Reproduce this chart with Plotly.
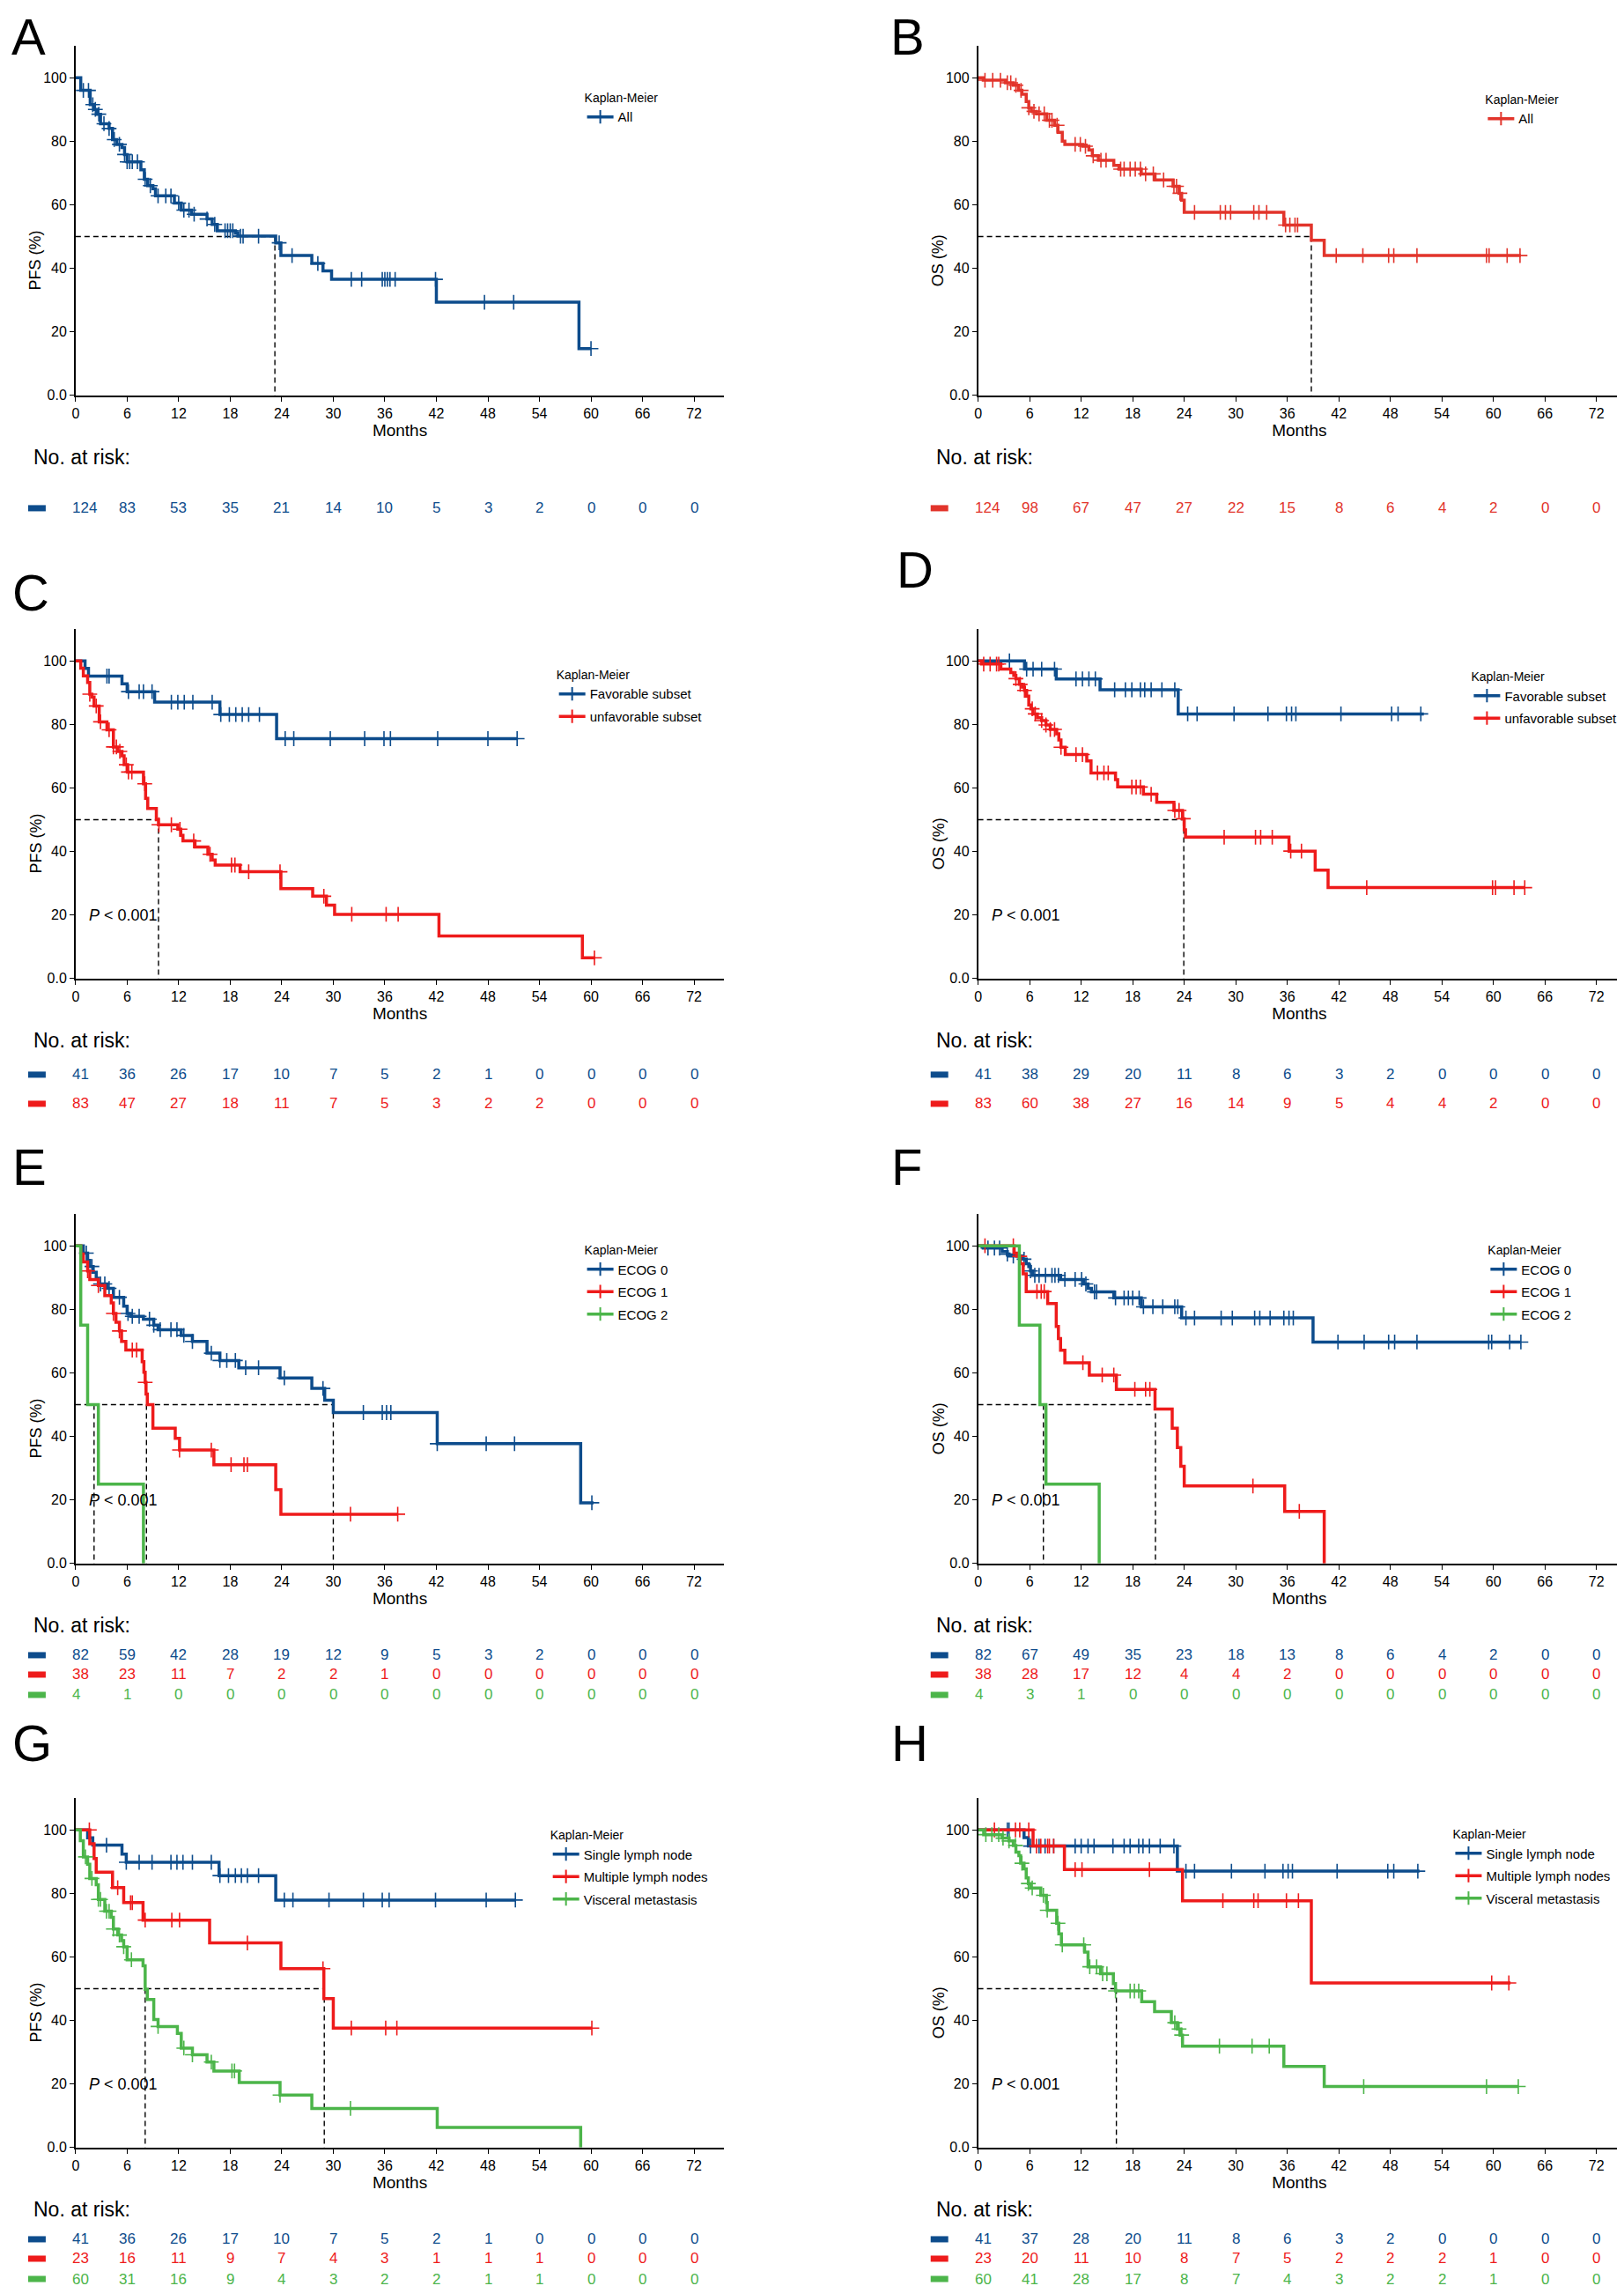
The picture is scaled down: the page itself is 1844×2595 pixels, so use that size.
import numpy as np
import plotly.graph_objects as go

# the browser adds an 8px body margin and the shot comes out slightly reduced
# in height, so page pixel positions are mapped back to figure pixels in px()/py()
PAGE_W, PAGE_H = 1844, 2595
OFF = 8
SHOT = 0.995
W, H = 1845, 2600
BLUE = "#0d4c8c"
RED = "#ee1b1b"
RED_B = "#e2342b"
GREEN = "#4cb54a"
FONT = "Liberation Sans, Arial, Helvetica, sans-serif"

months = list(range(0, 73, 6))

# ---- A: PFS, all patients ----
a_t = [0, 0.6, 1.7, 2.1, 2.5, 2.9, 3.9, 4.3, 4.8, 5.4, 5.7, 6.0, 7.6, 8.0, 8.4, 9.0, 9.3, 11.5, 12.3,
       13.5, 15.3, 15.9, 16.5, 18.6, 18.9, 23.3, 23.9, 27.5, 28.8, 29.8, 42.0, 58.6, 60.0]
a_s = [100, 96.0, 91.5, 90.0, 88.5, 85.5, 84.0, 80.5, 79.0, 78.0, 75.8, 73.5, 71.0, 68.0, 66.0, 65.0, 62.8,
       60.5, 58.3, 57.0, 55.5, 53.8, 51.8, 51.0, 50.1, 48.0, 44.0, 41.5, 39.2, 36.5, 29.3, 14.7, 14.7]
a_cens = [0.9, 1.5, 2.0, 2.3, 2.7, 3.3, 3.9, 4.5, 5.1, 5.7, 6.0, 6.3, 6.6, 7.2, 8.1, 8.7, 9.6, 10.5, 11.1,
          12.0, 12.6, 13.2, 13.8, 15.3, 16.2, 17.4, 17.7, 18.0, 18.3, 19.2, 19.5, 21.3, 23.7, 25.2, 28.2,
          32.1, 33.3, 35.7, 36.0, 36.3, 36.6, 37.2, 41.9, 47.6, 51.0, 60.0]
a_risk = [124, 83, 53, 35, 21, 14, 10, 5, 3, 2, 0, 0, 0]

# ---- B: OS, all patients ----
b_t = [0, 0.6, 3.2, 4.1, 4.7, 5.1, 5.6, 5.9, 6.2, 6.8, 8.0, 8.9, 9.3, 9.8, 10.1, 12.2, 12.9, 13.3, 14.0,
       15.8, 16.4, 19.0, 20.6, 22.7, 23.4, 23.7, 24.0, 35.6, 38.8, 40.3, 63.2]
b_s = [100, 99.2, 98.4, 97.6, 96.0, 94.8, 92.5, 90.5, 89.4, 88.6, 86.6, 85.0, 82.8, 80.0, 79.0, 78.4, 77.2,
       75.4, 74.0, 72.4, 71.2, 69.7, 67.8, 65.8, 63.6, 61.4, 57.6, 53.6, 48.8, 44.0, 44.0]
b_cens = [0.8, 1.7, 2.6, 3.4, 3.8, 4.4, 5.0, 5.9, 6.5, 7.1, 7.7, 8.3, 8.6, 9.2, 11.3, 11.9, 12.5, 13.4,
          14.3, 14.9, 16.6, 17.0, 17.7, 18.3, 18.9, 19.5, 20.4, 21.6, 22.8, 23.1, 23.5, 25.2, 28.2, 28.8,
          29.4, 32.1, 32.7, 33.6, 35.8, 36.3, 36.9, 37.2, 41.7, 44.8, 47.8, 48.4, 51.1, 59.2, 59.5, 61.6, 63.1]
b_risk = [124, 98, 67, 47, 27, 22, 15, 8, 6, 4, 2, 0, 0]

# ---- C: PFS by subset ----
c_fav_t = [0, 1.1, 1.5, 5.4, 6.0, 9.2, 16.8, 23.4, 51.5]
c_fav_s = [100, 97.6, 95.2, 92.8, 90.3, 87.0, 83.1, 75.5, 75.5]
c_fav_cens = [3.65, 3.9, 6.15, 7.4, 7.9, 8.9, 11.15, 11.9, 12.65, 13.65, 15.9, 16.9, 17.9, 18.65, 19.4,
              20.15, 21.4, 24.4, 25.4, 29.65, 33.65, 35.9, 36.65, 42.15, 48.0, 51.4]
c_fav_risk = [41, 36, 26, 17, 10, 7, 5, 2, 1, 0, 0, 0, 0]
c_unf_t = [0, 0.6, 0.9, 1.4, 1.65, 1.9, 2.15, 2.75, 3.65, 4.4, 4.9, 5.4, 5.65, 6.05, 7.9, 8.15, 8.4, 9.4,
           9.65, 11.9, 12.25, 12.5, 13.9, 15.4, 15.9, 16.25, 19.15, 23.9, 27.6, 29.2, 30.15, 42.3, 59.0, 60.5]
c_unf_s = [100, 97.7, 95.3, 93.2, 89.5, 88.6, 85.8, 80.8, 78.3, 72.9, 71.5, 70.1, 67.3, 65.0, 61.3, 56.7,
           53.5, 50.0, 48.4, 47.0, 45.1, 43.3, 41.4, 39.1, 37.3, 35.7, 33.6, 28.3, 25.9, 23.1, 20.2, 13.4,
           6.5, 6.5]
c_unf_cens = [1.65, 2.4, 2.9, 3.9, 4.4, 4.75, 5.15, 5.9, 6.15, 6.55, 8.05, 9.7, 11.15, 12.15, 13.75,
              15.65, 18.15, 18.55, 20.15, 23.8, 28.9, 32.15, 36.15, 37.55, 60.4]
c_unf_risk = [83, 47, 27, 18, 11, 7, 5, 3, 2, 2, 0, 0, 0]

# ---- D: OS by subset ----
d_fav_t = [0, 5.4, 9.1, 14.2, 23.3, 51.9]
d_fav_s = [100, 97.4, 94.3, 90.9, 83.3, 83.3]
d_fav_cens = [3.65, 5.65, 6.4, 7.4, 8.9, 11.4, 12.15, 12.9, 13.65, 15.9, 17.15, 17.9, 18.9, 19.4, 20.15,
              21.4, 22.9, 24.4, 25.5, 29.8, 33.75, 35.9, 36.5, 37.0, 42.25, 48.15, 48.9, 51.55]
d_fav_risk = [41, 38, 29, 20, 11, 8, 6, 3, 2, 0, 0, 0, 0]
d_unf_t = [0, 0.4, 2.65, 3.8, 4.15, 4.4, 4.8, 5.15, 5.4, 5.65, 5.9, 6.15, 6.4, 6.9, 7.4, 7.9, 8.4, 9.15,
           9.4, 9.65, 10.15, 12.65, 13.15, 16.0, 16.25, 19.25, 20.8, 22.8, 23.8, 24.0, 24.15, 36.2, 39.25,
           40.75, 63.65]
d_unf_s = [100, 99.0, 97.4, 96.3, 95.4, 94.4, 92.6, 91.7, 90.7, 88.9, 86.1, 84.9, 83.3, 82.1, 81.2, 79.8,
           78.4, 77.0, 75.1, 72.8, 70.5, 68.5, 64.7, 62.6, 60.3, 58.0, 55.5, 52.9, 50.3, 46.8, 44.5, 40.1,
           34.1, 28.6, 28.6]
d_unf_cens = [0.65, 1.4, 2.15, 2.4, 4.4, 4.9, 5.4, 6.3, 6.65, 7.4, 7.9, 8.4, 8.9, 9.65, 11.4, 12.15,
              13.9, 14.65, 15.15, 17.9, 18.4, 18.9, 20.15, 22.9, 23.4, 23.9, 28.65, 32.3, 32.9, 34.25,
              36.4, 37.65, 45.25, 59.9, 60.25, 62.4, 63.65]
d_unf_risk = [83, 60, 38, 27, 16, 14, 9, 5, 4, 4, 2, 0, 0]

# ---- E: PFS by ECOG ----
e0_t = [0, 0.9, 1.4, 1.65, 2.05, 2.4, 2.65, 3.65, 4.4, 5.6, 6.0, 6.4, 7.9, 9.1, 9.6, 12.3, 13.6, 15.3,
        16.8, 19.0, 23.8, 27.5, 29.0, 30.0, 42.1, 58.8, 60.3]
e0_s = [100, 97.7, 95.4, 93.5, 91.7, 89.8, 88.0, 86.6, 83.8, 81.0, 78.7, 77.8, 76.9, 75.0, 73.6, 71.8,
        69.9, 66.2, 63.9, 61.6, 58.4, 55.1, 51.4, 47.5, 37.7, 19.1, 19.1]
e0_cens = [1.25, 1.9, 2.9, 3.4, 3.9, 5.1, 6.1, 6.6, 7.4, 8.6, 9.1, 9.85, 11.1, 11.8, 12.6, 13.6, 15.8,
           16.8, 17.6, 18.6, 19.8, 21.3, 24.3, 28.8, 33.5, 35.7, 36.2, 36.7, 42.1, 47.8, 51.1, 60.1]
e0_risk = [82, 59, 42, 28, 19, 12, 9, 5, 3, 2, 0, 0, 0]
e1_t = [0, 0.6, 0.9, 1.4, 1.65, 2.65, 3.4, 4.15, 4.4, 4.7, 5.1, 5.35, 5.85, 7.75, 7.95, 8.1, 8.2, 8.35,
        9.0, 11.6, 12.1, 16.1, 23.3, 23.9, 37.5]
e1_s = [100, 97.4, 94.9, 92.1, 89.4, 87.5, 84.3, 82.0, 78.7, 75.9, 73.2, 69.9, 67.2, 63.5, 60.2, 57.0,
        53.3, 50.0, 42.6, 39.4, 35.7, 31.1, 23.2, 15.5, 15.5]
e1_cens = [1.4, 2.65, 4.4, 5.1, 6.6, 7.1, 8.1, 12.1, 15.8, 18.1, 19.6, 20.0, 32.0, 37.5]
e1_risk = [38, 23, 11, 7, 2, 2, 1, 0, 0, 0, 0, 0, 0]
e2_t = [0, 0.6, 1.4, 2.65, 7.9]
e2_s = [100, 75, 50, 25, 0]
e2_cens = []
e2_risk = [4, 1, 0, 0, 0, 0, 0, 0, 0, 0, 0, 0, 0]

# ---- F: OS by ECOG ----
f0_t = [0, 0.6, 2.8, 3.4, 3.6, 5.1, 5.6, 5.9, 6.1, 6.35, 9.6, 12.3, 12.8, 13.2, 15.8, 19.0, 23.7, 39.0, 63.2]
f0_s = [100, 99.3, 98.2, 97.4, 96.8, 95.8, 94.4, 93.5, 92.1, 90.7, 89.4, 88.0, 86.6, 85.5, 83.6, 80.8,
        77.3, 69.7, 69.7]
f0_cens = [1.15, 1.9, 2.5, 3.4, 4.1, 5.35, 6.1, 6.6, 7.1, 7.85, 8.6, 8.95, 9.35, 10.1, 11.3, 12.05, 12.55,
           13.55, 13.8, 16.0, 17.0, 17.5, 18.0, 18.75, 19.25, 20.35, 21.5, 22.9, 23.25, 24.2, 25.2, 28.3,
           29.6, 32.2, 32.8, 34.0, 35.6, 36.2, 36.7, 41.9, 44.95, 47.8, 48.5, 51.1, 59.45, 59.8, 61.9, 63.2]
f0_risk = [82, 67, 49, 35, 23, 18, 13, 8, 6, 4, 2, 0, 0]
f1_t = [0, 4.2, 4.5, 4.9, 5.25, 5.6, 8.1, 9.1, 9.35, 9.6, 10.1, 12.95, 16.1, 20.6, 22.6, 23.2, 23.6, 24.0,
        35.7, 40.3]
f1_s = [100, 97.7, 96.7, 94.4, 91.2, 85.6, 81.8, 74.6, 70.8, 67.1, 63.2, 59.3, 54.8, 48.6, 42.6, 36.5,
        30.6, 24.4, 16.4, 0]
f1_cens = [0.8, 4.1, 4.85, 6.85, 7.35, 7.7, 12.2, 14.45, 15.8, 18.25, 19.5, 20.0, 32.0, 37.4]
f1_risk = [38, 28, 17, 12, 4, 4, 2, 0, 0, 0, 0, 0, 0]
f2_t = [0, 4.8, 7.2, 7.9, 14.1]
f2_s = [100, 75, 50, 25, 0]
f2_cens = []
f2_risk = [4, 3, 1, 0, 0, 0, 0, 0, 0, 0, 0, 0, 0]

# ---- G: PFS by metastatic site ----
g1_t = [0, 1.4, 2.0, 5.4, 5.9, 16.7, 23.3, 51.2]
g1_s = [100, 97.5, 95.2, 92.4, 89.8, 85.6, 77.9, 77.9]
g1_cens = [3.6, 5.9, 7.4, 8.9, 11.1, 11.8, 12.5, 13.6, 15.8, 16.8, 17.8, 18.6, 19.3, 20.0, 21.3, 24.3,
           25.3, 29.5, 33.5, 35.7, 36.5, 41.9, 47.8, 51.2]
g1_risk = [41, 36, 26, 17, 10, 7, 5, 2, 1, 0, 0, 0, 0]
g2_t = [0, 1.65, 2.15, 2.4, 4.3, 5.6, 7.85, 15.6, 23.9, 28.9, 30.0, 60.1]
g2_s = [100, 95.6, 91.0, 86.7, 81.8, 77.1, 71.6, 64.4, 56.3, 46.9, 37.6, 37.6]
g2_cens = [1.6, 4.9, 6.4, 6.6, 8.1, 11.2, 12.1, 20.0, 28.8, 32.1, 36.1, 37.4, 60.1]
g2_risk = [23, 16, 11, 9, 7, 4, 3, 1, 1, 1, 0, 0, 0]
g3_t = [0, 0.55, 0.9, 1.4, 1.65, 2.4, 2.65, 3.4, 4.15, 4.4, 4.9, 5.35, 5.6, 6.0, 7.85, 8.1, 8.35, 9.1, 9.6,
        11.85, 12.3, 13.6, 15.3, 16.1, 19.05, 23.8, 27.5, 42.1, 58.8]
g3_s = [100, 96.6, 91.5, 89.2, 84.7, 82.7, 78.1, 74.4, 72.5, 68.8, 66.9, 65.1, 63.2, 59.1, 57.2, 49.8,
        46.6, 40.3, 38.1, 35.9, 31.3, 29.2, 26.9, 24.1, 20.5, 16.5, 12.3, 6.3, 0]
g3_cens = [1.15, 1.9, 2.65, 2.9, 3.6, 3.9, 4.4, 5.1, 5.6, 6.5, 9.6, 12.6, 13.6, 15.8, 18.2, 18.5, 23.8, 32.0]
g3_risk = [60, 31, 16, 9, 4, 3, 2, 2, 1, 1, 0, 0, 0]

# ---- H: OS by metastatic site ----
h1_t = [0, 5.35, 5.85, 23.2, 51.4]
h1_s = [100, 97.6, 94.9, 87.0, 87.0]
h1_cens = [3.4, 3.6, 6.1, 7.1, 7.8, 8.8, 11.3, 12.0, 12.8, 13.5, 15.7, 17.0, 17.7, 18.7, 19.2, 19.95,
           21.2, 22.8, 24.2, 25.2, 29.5, 33.4, 35.5, 36.1, 36.6, 41.8, 47.7, 48.4, 51.2]
h1_risk = [41, 37, 28, 20, 11, 8, 6, 3, 2, 0, 0, 0, 0]
h2_t = [0, 6.4, 10.05, 23.8, 38.8, 62.0]
h2_s = [100, 94.9, 87.5, 77.7, 51.8, 51.8]
h2_cens = [1.9, 4.35, 4.85, 5.9, 6.8, 7.3, 8.1, 8.3, 8.8, 11.3, 12.1, 19.95, 28.5, 32.1, 32.6, 35.9,
           37.3, 59.8, 61.8]
h2_risk = [23, 20, 11, 10, 8, 7, 5, 2, 2, 2, 1, 0, 0]
h3_t = [0, 0.65, 2.8, 3.6, 4.1, 4.4, 4.75, 4.95, 5.35, 5.6, 5.85, 6.1, 7.3, 7.95, 8.05, 9.15, 9.4, 9.7,
        12.4, 12.8, 14.25, 15.75, 16.0, 19.05, 20.55, 22.5, 23.2, 23.6, 23.8, 35.6, 40.3, 62.9]
h3_s = [100, 98.5, 97.4, 96.5, 95.1, 93.0, 91.9, 89.5, 87.7, 84.9, 83.1, 81.7, 79.4, 77.1, 74.7, 70.6,
        67.3, 63.8, 61.5, 56.9, 54.7, 51.6, 49.3, 45.9, 42.8, 39.3, 37.3, 35.4, 31.9, 25.5, 19.2, 19.2]
h3_cens = [0.9, 1.6, 2.4, 2.9, 3.6, 4.35, 5.1, 5.85, 6.3, 7.6, 8.05, 9.3, 9.8, 12.3, 13.0, 13.8, 14.5,
           15.0, 16.0, 17.7, 18.2, 18.7, 22.9, 23.4, 23.7, 28.1, 31.9, 33.9, 44.9, 59.2, 62.9]
h3_risk = [60, 41, 28, 17, 8, 7, 4, 3, 2, 2, 1, 0, 0]

subset_names = ["Favorable subset", "unfavorable subset"]
ecog_names = ["ECOG 0", "ECOG 1", "ECOG 2"]
site_names = ["Single lymph node", "Multiple lymph nodes", "Visceral metastasis"]

panels = [
    dict(letter="A", row=0, col=0, ytitle="PFS (%)", p=False, medians=[23.2],
         groups=[("All", BLUE, a_t, a_s, a_cens, a_risk)]),
    dict(letter="B", row=0, col=1, ytitle="OS (%)", p=False, medians=[38.8],
         groups=[("All", RED_B, b_t, b_s, b_cens, b_risk)]),
    dict(letter="C", row=1, col=0, ytitle="PFS (%)", p=True, medians=[9.65],
         groups=[(subset_names[0], BLUE, c_fav_t, c_fav_s, c_fav_cens, c_fav_risk),
                 (subset_names[1], RED, c_unf_t, c_unf_s, c_unf_cens, c_unf_risk)]),
    dict(letter="D", row=1, col=1, ytitle="OS (%)", p=True, medians=[23.95],
         groups=[(subset_names[0], BLUE, d_fav_t, d_fav_s, d_fav_cens, d_fav_risk),
                 (subset_names[1], RED, d_unf_t, d_unf_s, d_unf_cens, d_unf_risk)]),
    dict(letter="E", row=2, col=0, ytitle="PFS (%)", p=True, medians=[2.15, 8.25, 30.0],
         groups=[(ecog_names[0], BLUE, e0_t, e0_s, e0_cens, e0_risk),
                 (ecog_names[1], RED, e1_t, e1_s, e1_cens, e1_risk),
                 (ecog_names[2], GREEN, e2_t, e2_s, e2_cens, e2_risk)]),
    dict(letter="F", row=2, col=1, ytitle="OS (%)", p=True, medians=[7.6, 20.65],
         groups=[(ecog_names[0], BLUE, f0_t, f0_s, f0_cens, f0_risk),
                 (ecog_names[1], RED, f1_t, f1_s, f1_cens, f1_risk),
                 (ecog_names[2], GREEN, f2_t, f2_s, f2_cens, f2_risk)]),
    dict(letter="G", row=3, col=0, ytitle="PFS (%)", p=True, medians=[8.1, 28.95],
         groups=[(site_names[0], BLUE, g1_t, g1_s, g1_cens, g1_risk),
                 (site_names[1], RED, g2_t, g2_s, g2_cens, g2_risk),
                 (site_names[2], GREEN, g3_t, g3_s, g3_cens, g3_risk)]),
    dict(letter="H", row=3, col=1, ytitle="OS (%)", p=True, medians=[16.1],
         groups=[(site_names[0], BLUE, h1_t, h1_s, h1_cens, h1_risk),
                 (site_names[1], RED, h2_t, h2_s, h2_cens, h2_risk),
                 (site_names[2], GREEN, h3_t, h3_s, h3_cens, h3_risk)]),
]

# page layout in pixels
col_x0 = [82, 1109]
col_x1 = [820, 1840]
col_xmax = [75.5, 74.8]
row_y0 = [448, 1109, 1772, 2434]
letter_pos = {"A": (8, 24), "B": (1008, 24), "C": (8, 671), "D": (1014, 645),
              "E": (8, 1322), "F": (1008, 1322), "G": (8, 1975), "H": (1008, 1975)}
legend_pos = {"A": (659, 110), "B": (1684, 112), "C": (627, 764), "D": (1668, 766),
              "E": (659, 1416), "F": (1687, 1416), "G": (620, 2079), "H": (1647, 2078)}
risk_off = {1: [128], 2: [109, 142], 3: [104, 126, 149]}


def px(x):
    return (x - OFF) / W


def py(y):
    return 1 - (y / SHOT - OFF) / H


def step_at(t, s, c):
    i = np.searchsorted(np.asarray(t), c, side="right") - 1
    return s[max(i, 0)]


fig = go.Figure()
annotations = []
shapes = []
layout = {}

for k, pnl in enumerate(panels):
    n = k + 1
    xa = "xaxis" if n == 1 else f"xaxis{n}"
    ya = "yaxis" if n == 1 else f"yaxis{n}"
    xr = "x" if n == 1 else f"x{n}"
    yr = "y" if n == 1 else f"y{n}"
    lg = "legend" if n == 1 else f"legend{n}"
    col, row = pnl["col"], pnl["row"]
    x0, x1 = col_x0[col], col_x1[col]
    y0 = row_y0[row]

    layout[xa] = dict(domain=[px(x0), min(px(x1), 1)], range=[0, col_xmax[col]], anchor=yr,
                      tickvals=months, ticks="outside", ticklen=5, tickwidth=1.2, tickcolor="black",
                      showline=True, linecolor="black", linewidth=1.6, showgrid=False, zeroline=False,
                      tickfont=dict(family=FONT, size=16, color="black"),
                      title=dict(text="Months", font=dict(family=FONT, size=19, color="black"), standoff=1))
    layout[ya] = dict(domain=[py(y0), py(y0 - 396)], range=[0, 110], anchor=xr,
                      tickvals=[0, 20, 40, 60, 80, 100], ticktext=["0.0", "20", "40", "60", "80", "100"],
                      ticks="outside", ticklen=5, tickwidth=1.2, tickcolor="black",
                      showline=True, linecolor="black", linewidth=1.6, showgrid=False, zeroline=False,
                      tickfont=dict(family=FONT, size=16, color="black"))

    # median reference lines
    meds = pnl["medians"]
    fig.add_trace(go.Scatter(x=[0, max(meds)], y=[50, 50], mode="lines", xaxis=xr, yaxis=yr,
                             line=dict(color="black", width=1.4, dash="6px,4px"), showlegend=False,
                             hoverinfo="skip"))
    for m in meds:
        fig.add_trace(go.Scatter(x=[m, m], y=[50, 0], mode="lines", xaxis=xr, yaxis=yr,
                                 line=dict(color="black", width=1.4, dash="6px,4px"), showlegend=False,
                                 hoverinfo="skip"))

    ngrp = len(pnl["groups"])
    for g, (name, color, t, s, cens, risk) in enumerate(pnl["groups"]):
        fig.add_trace(go.Scatter(x=t, y=s, mode="lines", line=dict(color=color, width=3.5, shape="hv"),
                                 xaxis=xr, yaxis=yr, showlegend=False, name=name))
        if cens:
            fig.add_trace(go.Scatter(x=cens, y=[step_at(t, s, c) for c in cens], mode="markers",
                                     marker=dict(symbol="cross-thin", size=12, color=color,
                                                 line=dict(color=color, width=1.6)),
                                     xaxis=xr, yaxis=yr, showlegend=False, name=name))
        # legend entry
        fig.add_trace(go.Scatter(x=[None], y=[None], mode="lines+markers", name=name,
                                 line=dict(color=color, width=3.5),
                                 marker=dict(symbol="line-ns", size=11, color=color,
                                             line=dict(color=color, width=2)),
                                 xaxis=xr, yaxis=yr, legend=lg, legendgroup=f"{lg}_{g}"))

        # number at risk row
        ry = y0 + risk_off[ngrp][g]
        for j, (m, val) in enumerate(zip(months, risk)):
            if j == 0:
                annotations.append(dict(x=px(x0 - 6), xref="paper", y=py(ry), yref="paper", text=str(val),
                                        showarrow=False, xanchor="left", yanchor="middle",
                                        font=dict(family=FONT, size=17, color=color)))
            else:
                annotations.append(dict(x=m, xref=xr, y=py(ry), yref="paper", text=str(val),
                                        showarrow=False, xanchor="center", yanchor="middle",
                                        font=dict(family=FONT, size=17, color=color)))
        shapes.append(dict(type="rect", xref="paper", yref="paper", x0=px(x0 - 54), x1=px(x0 - 34),
                           y0=py(ry + 3.5), y1=py(ry - 3.5), fillcolor=color, line=dict(width=0)))

    lx, ly = legend_pos[pnl["letter"]]
    layout[lg] = dict(x=px(lx), y=py(ly - 12), xanchor="left", yanchor="top",
                      title=dict(text="Kaplan-Meier", font=dict(family=FONT, size=14, color="black")),
                      font=dict(family=FONT, size=15, color="black"), bgcolor="rgba(0,0,0,0)",
                      tracegroupgap=3, itemwidth=30)

    # texts
    annotations.append(dict(x=px(x0 - 45), y=py(y0 - 153), xref="paper", yref="paper",
                            text=pnl["ytitle"], textangle=-90, showarrow=False,
                            xanchor="center", yanchor="middle",
                            font=dict(family=FONT, size=18, color="black")))
    annotations.append(dict(x=px(x0 - 50), y=py(y0 + 70), xref="paper", yref="paper",
                            text="No. at risk:", showarrow=False, xanchor="left", yanchor="middle",
                            font=dict(family=FONT, size=23, color="black")))
    lx0, lyc = letter_pos[pnl["letter"]]
    if pnl["row"] == 0:
        annotations.append(dict(x=px(lx0), y=1, xref="paper", yref="paper", text=pnl["letter"],
                                showarrow=False, xanchor="left", yanchor="top", borderpad=0,
                                font=dict(family=FONT, size=58, color="black")))
    else:
        annotations.append(dict(x=px(lx0), y=py(lyc), xref="paper", yref="paper", text=pnl["letter"],
                                showarrow=False, xanchor="left", yanchor="middle",
                                font=dict(family=FONT, size=58, color="black")))
    if pnl["p"]:
        annotations.append(dict(x=1.4, y=20, xref=xr, yref=yr, text="<i>P</i> &lt; 0.001",
                                showarrow=False, xanchor="left", yanchor="middle",
                                font=dict(family=FONT, size=18, color="black")))

fig.update_layout(width=W, height=H, margin=dict(l=0, r=0, t=0, b=0),
                  paper_bgcolor="white", plot_bgcolor="white",
                  annotations=annotations, shapes=shapes, showlegend=True, **layout)

fig.write_html("out.html")
